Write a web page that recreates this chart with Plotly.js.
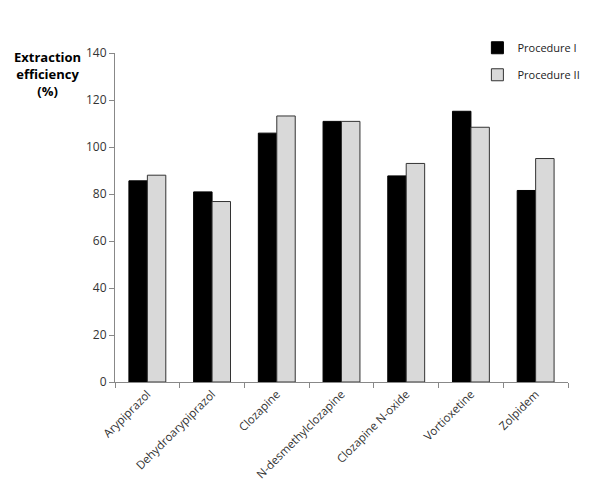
<!DOCTYPE html>
<html>
<head>
<meta charset="utf-8">
<script src="https://cdn.plot.ly/plotly-3.0.1.min.js"></script>
<style>
  html, body { margin: 0; padding: 0; background: #fff; }
  #chart { width: 590px; height: 488px; }
</style>
</head>
<body>
<div id="chart"></div>
<script>
const compounds = ["Arypiprazol", "Dehydroarypiprazol", "Clozapine", "N-desmethylclozapine",
  "Clozapine N-oxide", "Vortioxetine", "Zolpidem"];
const procedureI = [85.6, 80.9, 105.9, 110.9, 87.7, 115.2, 81.5];
const procedureII = [88.0, 76.8, 113.2, 110.9, 93.0, 108.4, 95.1];
const yTicks = [0, 20, 40, 60, 80, 100, 120, 140];

const font = "Open Sans, Liberation Sans, sans-serif";

Plotly.newPlot('chart', [
  {
    x: compounds,
    y: procedureI,
    name: 'Procedure I',
    legendgroup: 'p1',
    type: 'bar',
    marker: { color: '#000000', line: { color: '#000000', width: 1 } }
  },
  {
    x: compounds,
    y: procedureII,
    name: 'Procedure II',
    legendgroup: 'p2',
    type: 'bar',
    marker: { color: '#d9d9d9', line: { color: '#333333', width: 1 } }
  }
], {
  width: 590,
  height: 488,
  margin: { l: 115, r: 22, t: 53, b: 106, autoexpand: false },
  paper_bgcolor: '#fff',
  plot_bgcolor: '#fff',
  font: { family: font, size: 12, color: '#333' },
  bargap: 0.43,
  bargroupgap: 0,
  showlegend: true,
  legend: {
    x: 0.8, y: 1.06, xanchor: 'left', yanchor: 'top',
    font: { size: 11, color: '#222' },
    bgcolor: 'rgba(0,0,0,0)',
    tracegroupgap: 8,
    itemwidth: 30
  },
  xaxis: {
    type: 'category',
    tickangle: -45,
    showline: true,
    linecolor: '#888',
    linewidth: 1,
    ticks: 'outside',
    tickson: 'boundaries',
    ticklen: 5,
    tickcolor: '#888',
    showgrid: false,
    zeroline: false,
    tickfont: { size: 11.5, color: '#333' }
  },
  yaxis: {
    range: [0, 140],
    tickvals: yTicks,
    showline: true,
    linecolor: '#888',
    linewidth: 1,
    ticks: 'outside',
    ticklen: 5,
    tickcolor: '#888',
    showgrid: false,
    zeroline: false,
    tickfont: { size: 12, color: '#333' }
  },
  annotations: [{
    text: '<b>Extraction<br>efficiency<br>(%)</b>',
    xref: 'paper', yref: 'paper',
    x: -0.15, y: 1.02, xanchor: 'center', yanchor: 'top',
    showarrow: false,
    align: 'center',
    font: { family: font, size: 13, color: '#000' }
  }]
}, { displayModeBar: false });
</script>
</body>
</html>
